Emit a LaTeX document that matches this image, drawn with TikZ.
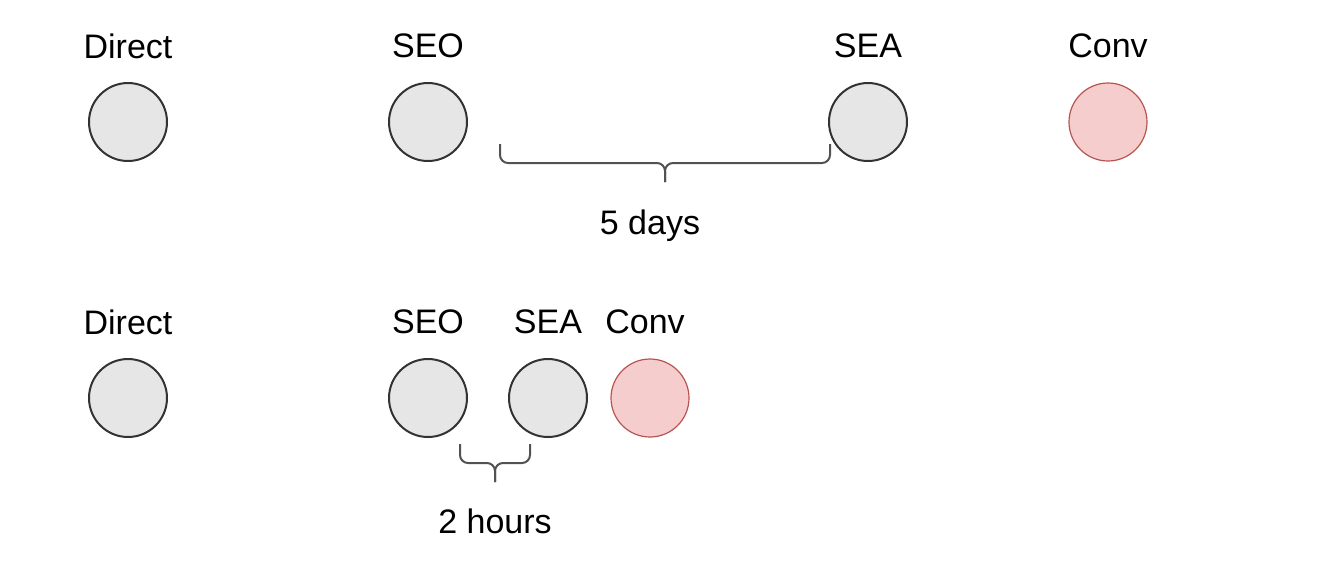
\documentclass[tikz,border=0pt]{standalone}
\usepackage{fontspec}
\setmainfont{Liberation Sans}
\definecolor{chgray}{HTML}{E6E6E6}
\definecolor{chline}{HTML}{333333}
\definecolor{convfill}{HTML}{F4CDCC}
\definecolor{convline}{HTML}{B85450}
\begin{document}
\begin{tikzpicture}[x=0.5pt, y=-0.5pt,
  channel/.style={circle, draw=chline, fill=chgray, line width=1pt, minimum size=39pt, inner sep=0pt},
  conv/.style={channel, draw=convline, fill=convfill, line width=0.6pt},
  lbl/.style={font=\fontsize{17}{20}\selectfont, inner sep=0pt},
  gap/.style={draw=chline!85, line width=1pt, rounded corners=4pt}]
\useasboundingbox (0,0) rectangle (1330,570);

% first path
\node[channel] (d1) at (128,122) {};
\node[channel] (s1) at (428,122) {};
\node[channel] (a1) at (868,122) {};
\node[conv] (c1) at (1108,122) {};
\node[lbl] (d1l) at (128,46) {Direct};
\node[lbl] (s1l) at (428,46) {SEO};
\node[lbl] (a1l) at (868,46) {SEA};
\node[lbl] (c1l) at (1108,46) {Conv};

\coordinate (g1a) at (500,144);
\coordinate (g1b) at (830,144);
\draw[gap] (g1a) -- ++(0,19) -- ++(165,0) -- ++(0,19);
\draw[gap] (g1b) -- ++(0,19) -- ++(-165,0) -- ++(0,19);
\node[lbl] (g1l) at (650,226) {5 days};

% second path
\node[channel] (d2) at (128,398) {};
\node[channel] (s2) at (428,398) {};
\node[channel] (a2) at (548,398) {};
\node[conv] (c2) at (650,398) {};
\node[lbl] (d2l) at (128,322) {Direct};
\node[lbl] (s2l) at (428,322) {SEO};
\node[lbl] (a2l) at (548,322) {SEA};
\node[lbl] (c2l) at (645,322) {Conv};

\coordinate (g2a) at (460,444);
\coordinate (g2b) at (530,444);
\draw[gap] (g2a) -- ++(0,19) -- ++(35,0) -- ++(0,19);
\draw[gap] (g2b) -- ++(0,19) -- ++(-35,0) -- ++(0,19);
\node[lbl] (g2l) at (495,521) {2 hours};
\end{tikzpicture}
\end{document}
